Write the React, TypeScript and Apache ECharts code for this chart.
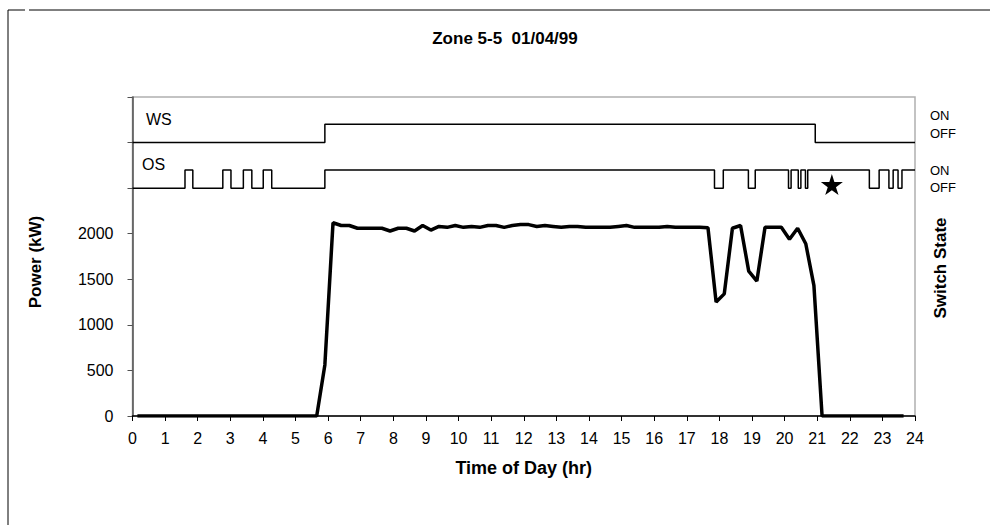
import React, { useEffect, useRef } from "react";
import * as echarts from "echarts";

// Power samples (kW), every 15 minutes starting at 0.15 h
const powerStart = 0.15;
const powerStep = 0.25;
const powerKW = [
  0, 0, 0, 0, 0, 0, 0, 0, 0, 0, 0, 0, 0, 0, 0, 0, 0, 0, 0, 0, 0, 0, 0,
  560, 2120, 2090, 2090, 2060, 2060, 2060, 2060, 2030, 2060, 2060, 2030, 2090,
  2040, 2080, 2070, 2090, 2070, 2080, 2070, 2090, 2090, 2070, 2090, 2100, 2100,
  2080, 2090, 2080, 2070, 2080, 2080, 2070, 2070, 2070, 2070, 2080, 2090, 2070,
  2070, 2070, 2070, 2080, 2070, 2070, 2070, 2070, 2066, 1250, 1340, 2060, 2090,
  1590, 1480, 2070, 2070, 2070, 1940, 2060, 1890, 1430,
  0, 0, 0, 0, 0, 0, 0, 0, 0, 0, 0,
];

// Switch states (0 = OFF, 1 = ON): times of change
const wsTimes = [0, 5.9, 20.94, 24];
const wsStates = [0, 1, 0, 0];
const osTimes = [0, 1.61, 1.85, 2.77, 3.02, 3.4, 3.66, 4.01, 4.27, 5.9, 17.85, 18.12, 18.89, 19.1, 20.12, 20.2, 20.42, 20.5, 20.64, 20.71, 22.6, 22.9, 23.2, 23.33, 23.48, 23.6, 24];
const osStates = [0, 1, 0, 1, 0, 1, 0, 1, 0, 1, 0, 1, 0, 1, 0, 1, 0, 1, 0, 1, 0, 1, 0, 1, 0, 1, 1];

// Levels at which the state traces are drawn on the power scale
const wsLevels = [3000, 3200];
const osLevels = [2500, 2700];

const starPoint = [[21.45, 2540]];

const xTicks = [0, 24, 1];
const yTicks = [0, 3500, 500];
const yLabelMax = 2000;

const FONT = "'Liberation Sans', Arial, sans-serif";
const STAR = "path://M50,0 L61,35 L98,35 L68,57 L79,91 L50,70 L21,91 L32,57 L2,35 L39,35 Z";

export default function App() {
  const ref = useRef<HTMLDivElement>(null);
  useEffect(() => {
    if (!ref.current) return;
    const chart = echarts.init(ref.current, null, { renderer: "svg" });
    const powerData = powerKW.map((v, i) => [powerStart + powerStep * i, v]);
    const wsData = wsTimes.map((t, i) => [t, wsLevels[wsStates[i]]]);
    const osData = osTimes.map((t, i) => [t, osLevels[osStates[i]]]);
    const txt = (text: string, x: number, y: number, size: number, extra: any = {}) => ({
      type: "text",
      x,
      y,
      silent: true,
      ...extra,
      style: {
        text,
        fill: "#000",
        font: `${extra.bold ? "bold " : ""}${size}px ${FONT}`,
        textAlign: extra.align || "left",
        textVerticalAlign: "middle",
      },
    });
    chart.setOption({
      animation: false,
      backgroundColor: "#fff",
      textStyle: { fontFamily: FONT },
      grid: {
        left: 132.5,
        right: 75,
        top: 97,
        bottom: 109,
        show: true,
        borderColor: "#b0b0b0",
        borderWidth: 1.5,
        backgroundColor: "transparent",
      },
      xAxis: {
        type: "value",
        min: xTicks[0],
        max: xTicks[1],
        interval: xTicks[2],
        splitLine: { show: false },
        axisLine: { lineStyle: { color: "#000", width: 1.5 } },
        axisTick: { inside: false, length: 5, lineStyle: { color: "#000" } },
        axisLabel: { color: "#000", fontSize: 16, margin: 14, fontFamily: FONT },
        name: "Time of Day (hr)",
        nameLocation: "middle",
        nameGap: 43,
        nameTextStyle: { color: "#000", fontSize: 18, fontWeight: "bold", fontFamily: FONT },
      },
      yAxis: {
        type: "value",
        min: yTicks[0],
        max: yTicks[1],
        interval: yTicks[2],
        splitLine: { show: false },
        axisLine: { show: true, lineStyle: { color: "#505050", width: 1.5 } },
        axisTick: { show: true, inside: false, length: 5, lineStyle: { color: "#505050" } },
        axisLabel: {
          color: "#000",
          fontSize: 16,
          margin: 19,
          fontFamily: FONT,
          formatter: (v: number) => (v <= yLabelMax ? String(v) : ""),
        },
      },
      series: [
        {
          type: "line",
          data: powerData,
          symbol: "none",
          lineStyle: { color: "#000", width: 3.5 },
          z: 3,
        },
        {
          type: "line",
          data: wsData,
          step: "end",
          symbol: "none",
          lineStyle: { color: "#000", width: 1.5 },
        },
        {
          type: "line",
          data: osData,
          step: "end",
          symbol: "none",
          lineStyle: { color: "#000", width: 1.5 },
        },
        {
          type: "scatter",
          data: starPoint,
          symbol: STAR,
          symbolSize: [22, 21],
          itemStyle: { color: "#000", opacity: 1 },
          z: 4,
        },
      ],
      graphic: [
        { type: "line", silent: true, shape: { x1: 8, y1: 10, x2: 25, y2: 10 }, style: { stroke: "#000", lineWidth: 1 } },
        { type: "line", silent: true, shape: { x1: 29, y1: 10, x2: 990, y2: 10 }, style: { stroke: "#000", lineWidth: 1 } },
        { type: "line", silent: true, shape: { x1: 8, y1: 10, x2: 8, y2: 525 }, style: { stroke: "#000", lineWidth: 1 } },
        txt("Zone 5-5  01/04/99", 505, 38, 17, { bold: true, align: "center" }),
        txt("WS", 146, 119, 16),
        txt("OS", 142, 164, 16),
        txt("ON", 930, 115, 13),
        txt("OFF", 930, 133, 13),
        txt("ON", 930, 170, 13),
        txt("OFF", 930, 187, 13),
        txt("Power (kW)", 35, 262, 17, { bold: true, align: "center", rotation: Math.PI / 2 }),
        txt("Switch State", 940, 268, 17, { bold: true, align: "center", rotation: Math.PI / 2 }),
      ],
    });
    return () => chart.dispose();
  }, []);
  return <div ref={ref} style={{ position: "absolute", left: 0, top: 0, width: 990, height: 525 }} />;
}
